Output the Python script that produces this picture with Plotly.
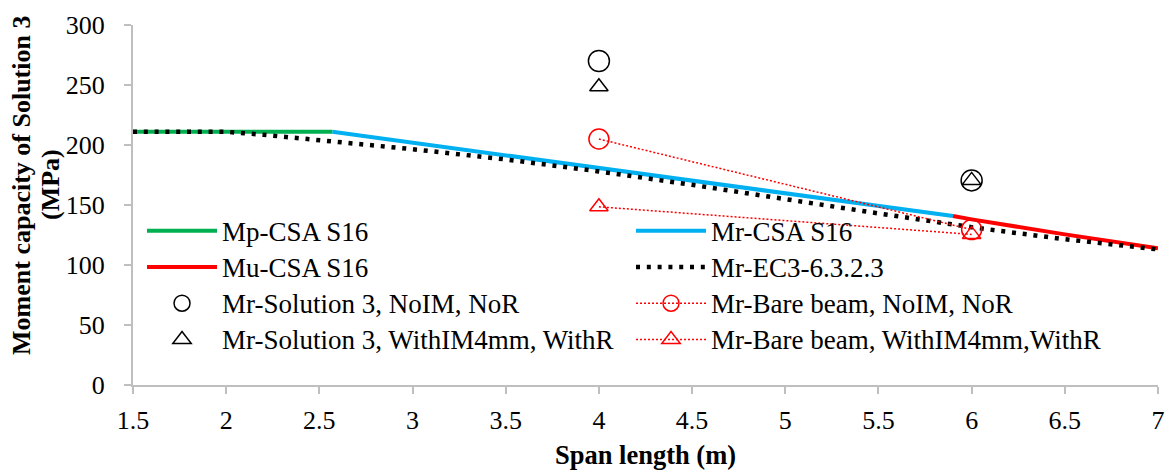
import plotly.graph_objects as go

# ---- data ----
span_mp = [1.5, 2.0, 2.57]
mp_csa = [211, 211, 211]

span_mr = [2.57, 3.0, 3.5, 4.0, 4.5, 5.0, 5.5, 5.9]
mr_csa = [211, 202, 191.5, 181, 170.5, 160, 149.3, 140.8]

span_mu = [5.9, 6.0, 6.5, 7.0]
mu_csa = [140.8, 138, 125.5, 114]

span_ec3 = [1.5, 2.0, 2.2, 2.5, 3.0, 3.5, 4.0, 4.5, 5.0, 5.5, 6.0, 6.5, 7.0]
mr_ec3 = [211, 211, 208.5, 204, 196.5, 188, 178, 166.8, 154.5, 143, 131.5, 121.5, 113]

span_test = [4, 6]
sol3_noim_nor = [270, 170.5]
sol3_withim_withr = [248.5, 170.5]
bare_noim_nor = [205, 129.5]
bare_withim_withr = [148.5, 125.5]

x_ticks = [1.5, 2, 2.5, 3, 3.5, 4, 4.5, 5, 5.5, 6, 6.5, 7]
x_ticktext = ["1.5", "2", "2.5", "3", "3.5", "4", "4.5", "5", "5.5", "6", "6.5", "7"]
y_ticks = [0, 50, 100, 150, 200, 250, 300]
y_title_lines = ["Moment capacity of Solution 3", "(MPa)"]
x_title = "Span length (m)"

FONT = "Liberation Serif, Times New Roman, serif"
GREEN = "#00B050"
BLUE = "#00B0F0"
RED = "#FF0000"
GRID = "#BFBFBF"


def lg(name):
    return '<span style="font-size:27px">' + name + '</span>'


fig = go.Figure()
fig.add_trace(go.Scatter(x=span_mp, y=mp_csa, mode="lines", name=lg("Mp-CSA S16"),
                         line=dict(color=GREEN, width=4)))
fig.add_trace(go.Scatter(x=span_mr, y=mr_csa, mode="lines", name=lg("Mr-CSA S16"),
                         line=dict(color=BLUE, width=4)))
fig.add_trace(go.Scatter(x=span_mu, y=mu_csa, mode="lines", name=lg("Mu-CSA S16"),
                         line=dict(color=RED, width=4)))
fig.add_trace(go.Scatter(x=span_ec3, y=mr_ec3, mode="lines", name=lg("Mr-EC3-6.3.2.3"),
                         line=dict(color="black", width=4.5, dash="4px,6.8px")))
fig.add_trace(go.Scatter(x=span_test, y=sol3_noim_nor, mode="markers",
                         name=lg("Mr-Solution 3, NoIM, NoR"),
                         marker=dict(symbol="circle-open", size=21, color="black",
                                     line=dict(width=1.5, color="black"))))
fig.add_trace(go.Scatter(x=span_test, y=bare_noim_nor, mode="lines+markers",
                         name=lg("Mr-Bare beam, NoIM, NoR"),
                         line=dict(color=RED, width=1.5, dash="2px,2px"),
                         marker=dict(symbol="circle-open", size=20, color=RED,
                                     line=dict(width=1.5, color=RED))))
fig.add_trace(go.Scatter(x=span_test, y=sol3_withim_withr, mode="markers",
                         name=lg("Mr-Solution 3, WithIM4mm, WithR"),
                         marker=dict(symbol="triangle-up-open", size=16, color="black",
                                     line=dict(width=1.5, color="black"))))
fig.add_trace(go.Scatter(x=span_test, y=bare_withim_withr, mode="lines+markers",
                         name=lg("Mr-Bare beam, WithIM4mm,WithR"),
                         line=dict(color=RED, width=1.5, dash="2px,2px"),
                         marker=dict(symbol="triangle-up-open", size=16, color=RED,
                                     line=dict(width=1.5, color=RED))))

fig.update_layout(
    width=1168, height=470,
    margin=dict(l=133, r=10, t=25, b=85),
    paper_bgcolor="white", plot_bgcolor="white",
    font=dict(family=FONT, size=26, color="black"),
    showlegend=True,
    legend=dict(orientation="h", x=0.0088, y=0.493, xanchor="left", yanchor="top",
                bgcolor="rgba(0,0,0,0)", borderwidth=0,
                itemwidth=70, entrywidth=404, entrywidthmode="pixels",
                font=dict(family=FONT, size=25.6, color="black"),
                itemclick=False, itemdoubleclick=False),
    xaxis=dict(range=[1.5, 7], tickmode="array", tickvals=x_ticks, ticktext=x_ticktext,
               automargin=False,
               showgrid=False, zeroline=False, showline=True, linecolor=GRID, linewidth=2,
               ticks="outside", ticklen=7, tickwidth=1.5, tickcolor=GRID,
               ticklabelstandoff=4,
               tickfont=dict(family=FONT, size=26, color="black"),
               title=dict(text="<b>" + x_title + "</b>", standoff=16,
                          font=dict(family=FONT, size=26.5, color="black"))),
    yaxis=dict(range=[0, 300], tickmode="array", tickvals=y_ticks,
               automargin=False,
               showgrid=False, zeroline=False, showline=True, linecolor=GRID, linewidth=2,
               ticks="outside", ticklen=7, tickwidth=1.5, tickcolor=GRID,
               ticklabelstandoff=14,
               tickfont=dict(family=FONT, size=26, color="black")),
    annotations=[
        dict(text="<b>" + y_title_lines[0] + "</b>",
             xref="paper", yref="paper", x=-0.1083, y=0.5556,
             xanchor="center", yanchor="middle", textangle=-90,
             showarrow=False, font=dict(family=FONT, size=26, color="black")),
        dict(text="<b>" + y_title_lines[1] + "</b>",
             xref="paper", yref="paper", x=-0.0800, y=0.5556,
             xanchor="center", yanchor="middle", textangle=-90,
             showarrow=False, font=dict(family=FONT, size=26, color="black")),
    ],
)

fig.write_html("out.html")
